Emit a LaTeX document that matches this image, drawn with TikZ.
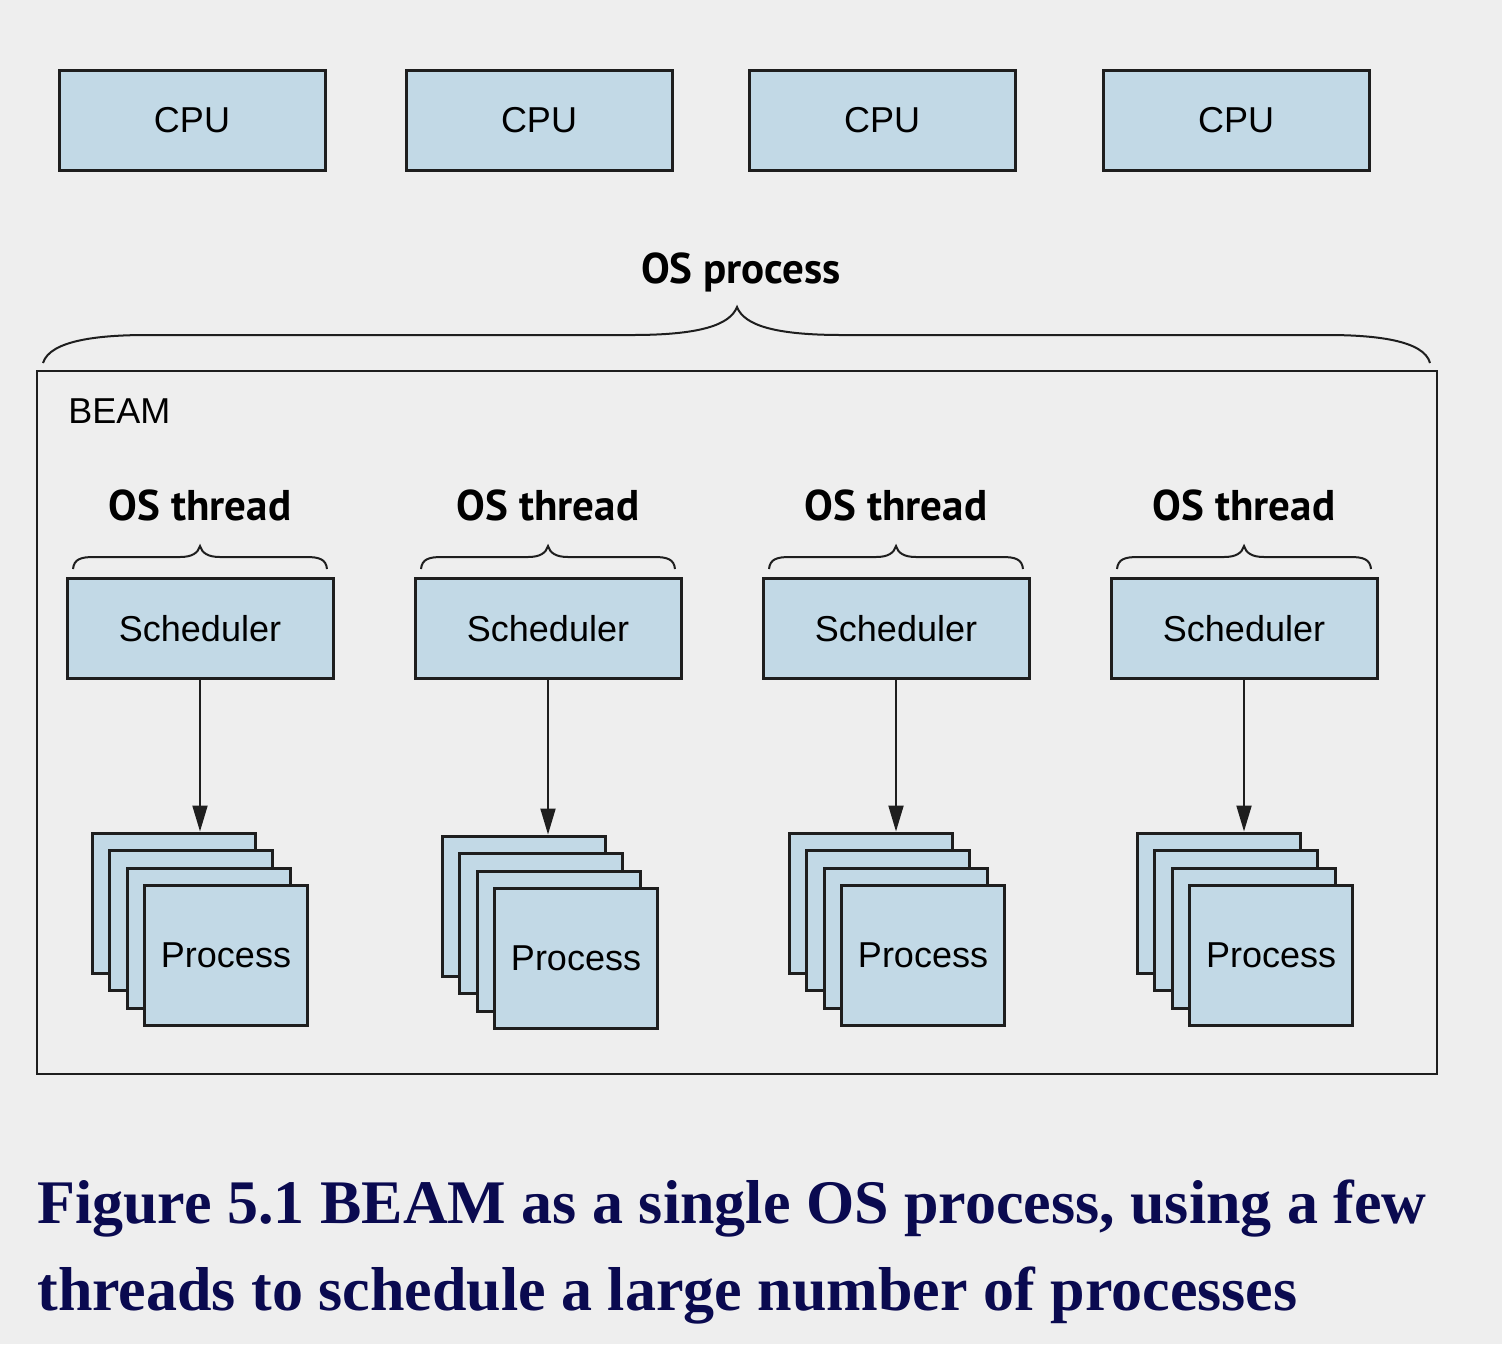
\documentclass[tikz,border=0pt]{standalone}
\usepackage{fontspec}
\setmainfont{Liberation Sans}
\newfontfamily\headfont{PT Sans}
\newfontfamily\capfont{Liberation Serif}
\usetikzlibrary{arrows.meta}
\definecolor{bg}{RGB}{238,238,238}
\definecolor{boxfill}{RGB}{194,217,230}
\definecolor{capblue}{RGB}{10,10,80}
\definecolor{edge}{RGB}{30,30,30}

\begin{document}
\begin{tikzpicture}[x=0.5pt,y=-0.5pt,
  box/.style={draw=edge, fill=boxfill, line width=1.5pt,
    minimum width=133pt, minimum height=50pt, inner sep=0pt,
    font=\fontsize{18}{21}\selectfont},
  procbox/.style={draw=edge, fill=boxfill, line width=1.5pt,
    minimum width=81.5pt, minimum height=70pt, inner sep=0pt,
    font=\fontsize{18}{21}\selectfont},
  heading/.style={font=\headfont\bfseries\fontsize{21.5}{25}\selectfont, inner sep=0pt, anchor=base},
  bracestroke/.style={draw=edge, line width=1pt},
  flow/.style={draw=edge, line width=1pt, -{Triangle[length=13pt,width=7.5pt]}},
  caption/.style={font=\capfont\bfseries\fontsize{31}{37}\selectfont, text=capblue,
    inner sep=0pt, anchor=base west}]

% canvas
\fill[bg] (0,0) rectangle (1502,1344);
\useasboundingbox (0,0) rectangle (1502,1344);

% CPUs
\node[box] (cpu1) at (192,120) {CPU};
\node[box] (cpu2) at (539,120) {CPU};
\node[box] (cpu3) at (882,120) {CPU};
\node[box] (cpu4) at (1236,120) {CPU};

% OS process brace and label
\node[heading] (osproc) at (741,283) {OS process};
\draw[bracestroke] (43,363) .. controls (50,340) and (100,335) .. (147,335)
  -- (632,335) .. controls (700,335) and (730,325) .. (737,307)
  .. controls (744,325) and (774,335) .. (842,335)
  -- (1327,335) .. controls (1374,335) and (1424,340) .. (1430,363);

% BEAM container
\node[draw=edge, line width=1.2pt, minimum width=700pt, minimum height=351.5pt,
  inner sep=0pt] (beam) at (737,722.5) {};
\node[font=\fontsize{18}{21}\selectfont, inner sep=0pt, anchor=base west]
  (beamlabel) at (68,423) {BEAM};

% schedulers with their threads and processes
\foreach \i/\cx/\bx/\by in {1/200/92/833, 2/548/442/836, 3/896/789/833, 4/1244/1137/833} {
  \node[heading] (thr\i) at (\cx,520) {OS thread};
  \draw[bracestroke] ({\cx-127},569) .. controls ({\cx-126},559) and ({\cx-119},557) .. ({\cx-106},557)
    -- ({\cx-20},557) .. controls ({\cx-8},557) and ({\cx-2},553) .. (\cx,546)
    .. controls ({\cx+2},553) and ({\cx+8},557) .. ({\cx+20},557)
    -- ({\cx+106},557) .. controls ({\cx+119},557) and ({\cx+126},559) .. ({\cx+127},569);
  \node[box] (s\i) at (\cx,628.5) {Scheduler};
  \node[procbox] (p\i a) at ({\bx+81.5},{\by+70}) {};
  \node[procbox] (p\i b) at ({\bx+99},{\by+87.5}) {};
  \node[procbox] (p\i c) at ({\bx+116.5},{\by+105}) {};
  \node[procbox] (p\i) at ({\bx+134},{\by+122.5}) {Process};
  \draw[flow] (s\i.south) -- (s\i.south |- p\i a.north);
}

% caption
\node[caption] (cap1) at (37,1223) {Figure 5.1 BEAM as a single OS process, using a few};
\node[caption] (cap2) at (37,1310) {threads to schedule a large number of processes};
\end{tikzpicture}
\end{document}
